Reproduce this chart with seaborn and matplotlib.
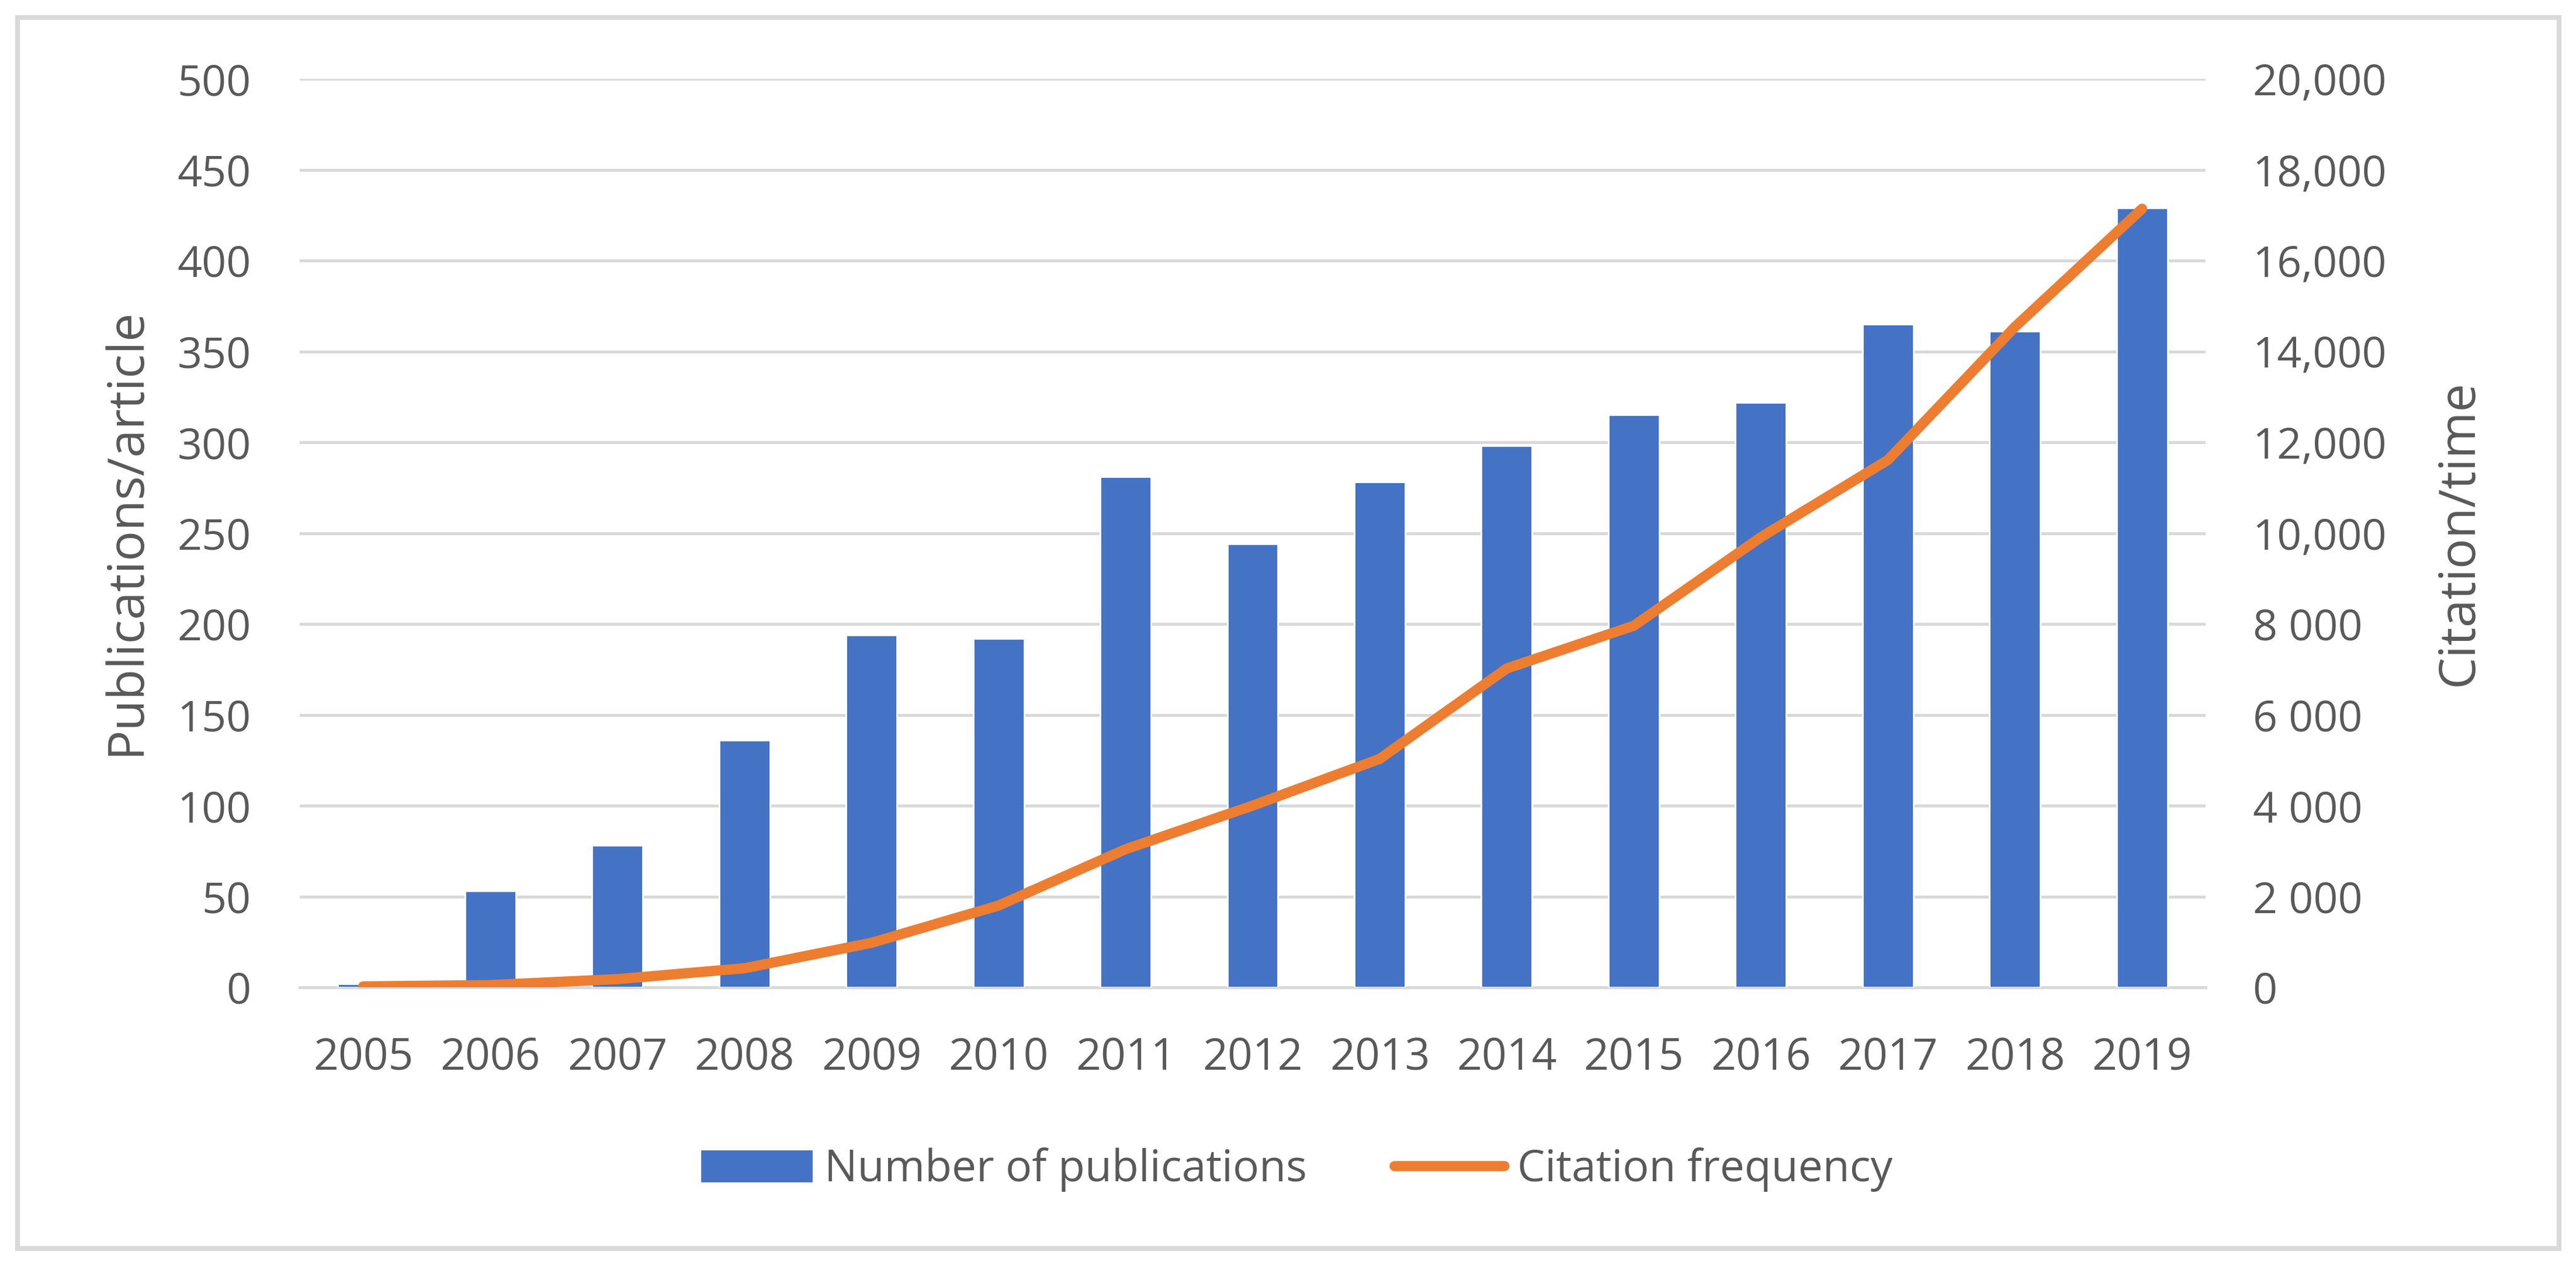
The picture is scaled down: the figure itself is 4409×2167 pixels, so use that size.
import matplotlib
matplotlib.use("Agg")
import matplotlib.pyplot as plt
import matplotlib.patches as mpatches
from matplotlib.lines import Line2D
from matplotlib.ticker import FixedLocator, FixedFormatter
import numpy as np
import pandas as pd
import seaborn as sns

years = ["2005", "2006", "2007", "2008", "2009", "2010", "2011", "2012",
         "2013", "2014", "2015", "2016", "2017", "2018", "2019"]
publications = [2, 53, 78, 136, 194, 192, 281, 244, 278, 298, 315, 322, 365, 361, 429]
citations = [20, 50, 180, 420, 980, 1800, 3040, 4000, 5030, 7020, 7960, 9910, 11610, 14540, 17140]
left_ticks = [0, 50, 100, 150, 200, 250, 300, 350, 400, 450, 500]
right_ticks = [0, 2000, 4000, 6000, 8000, 10000, 12000, 14000, 16000, 18000, 20000]
right_tick_labels = ["0", "2 000", "4 000", "6 000", "8 000", "10,000", "12,000",
                     "14,000", "16,000", "18,000", "20,000"]
bar_label = "Number of publications"
line_label = "Citation frequency"
left_ylabel = "Publications/article"
right_ylabel = "Citation/time"

BLUE = "#4472C4"
ORANGE = "#ED7D31"
GRID = "#D9D9D9"
TEXT = "#595959"

sns.set_theme(style="white")
plt.rcParams["font.family"] = ["Open Sans", "DejaVu Sans"]

W, H = 4409, 2167
DPI = 200
fig = plt.figure(figsize=(W / DPI, H / DPI), dpi=DPI)
fig.patch.set_facecolor("white")

ax_l, ax_r, ax_t, ax_b = 513, 3775, 135, 1690
ax = fig.add_axes([ax_l / W, 1 - ax_b / H, (ax_r - ax_l) / W, (ax_b - ax_t) / H])

df = pd.DataFrame({"year": years, "pubs": publications, "cites": citations})

sns.barplot(data=df, x="year", y="pubs", color=BLUE, width=0.4, ax=ax,
            saturation=1, label=bar_label, zorder=3)
ax.set_ylim(0, 500)
ax.set_xlim(-0.5, len(years) - 0.5)
ax.yaxis.set_major_locator(FixedLocator(left_ticks))
ax.grid(axis="y", color=GRID, linewidth=1.8, zorder=0)
ax.set_axisbelow(True)
for s in ["top", "right", "left"]:
    ax.spines[s].set_visible(False)
ax.spines["bottom"].set_color(GRID)
ax.spines["bottom"].set_linewidth(1.8)
ax.tick_params(axis="y", length=0, pad=30, labelsize=26.5, labelcolor=TEXT)
ax.tick_params(axis="x", length=0, pad=30, labelsize=27, labelcolor=TEXT)
ax.set_xlabel("")
ax.set_ylabel(left_ylabel, fontsize=31, color=TEXT)
ax.yaxis.set_label_coords(-0.0776, 0.5016)

ax2 = ax.twinx()
sns.lineplot(x=np.arange(len(years)), y=df["cites"], ax=ax2, color=ORANGE,
             linewidth=6.3, label=line_label, legend=False, zorder=4,
             solid_capstyle="round", solid_joinstyle="round")
ax2.set_ylim(0, 20000)
ax2.set_xlim(-0.5, len(years) - 0.5)
ax2.yaxis.set_major_locator(FixedLocator(right_ticks))
ax2.yaxis.set_major_formatter(FixedFormatter(right_tick_labels))
for s in ["top", "right", "left", "bottom"]:
    ax2.spines[s].set_visible(False)
ax2.tick_params(axis="y", length=0, pad=29, labelsize=26.5, labelcolor=TEXT)
ax2.set_ylabel(right_ylabel, fontsize=31, color=TEXT)
ax2.yaxis.set_label_coords(1.1199, 0.5003)
ax2.grid(False)
ax.set_zorder(1)
ax2.set_zorder(2)
ax2.patch.set_visible(False)

handles = [mpatches.Patch(color=BLUE, label=bar_label),
           Line2D([0], [0], color=ORANGE, linewidth=6.3, solid_capstyle="round", label=line_label)]
if ax.get_legend() is not None:
    ax.get_legend().remove()
fig.legend(handles=handles, loc="center", bbox_to_anchor=(0.5036, 1 - 2002 / H),
           ncol=2, frameon=False, fontsize=27, handlelength=2.5, handleheight=0.7,
           handletextpad=0.3, columnspacing=2.0, labelcolor=TEXT)

border = mpatches.Rectangle((30 / W, 1 - 2137 / H), (4380 - 30) / W, (2137 - 30) / H,
                            transform=fig.transFigure, fill=False, edgecolor=GRID,
                            linewidth=3)
fig.patches.append(border)

fig.savefig("out.png", dpi=DPI, facecolor="white")
